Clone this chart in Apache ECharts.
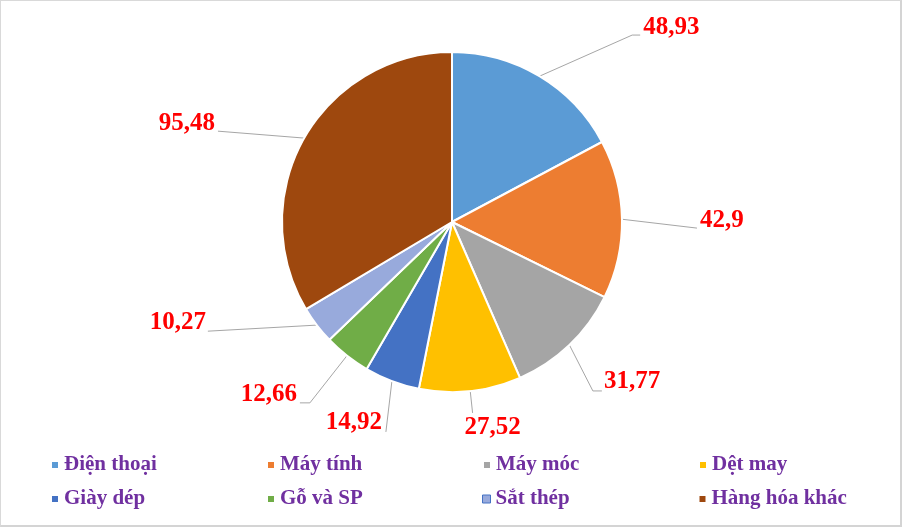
<!DOCTYPE html>
<html>
<head>
<meta charset="utf-8">
<script src="https://cdn.jsdelivr.net/npm/echarts@6/dist/echarts.min.js"></script>
<style>
html,body{margin:0;padding:0;background:#fff;}
#frame{position:absolute;left:0;top:0;width:902px;height:527px;box-sizing:border-box;border-top:1px solid #d9d9d9;border-left:1px solid #d9d9d9;border-right:2px solid #d4d4d4;border-bottom:2px solid #d4d4d4;pointer-events:none;}
#chart{width:902px;height:527px;}
</style>
</head>
<body>
<div id="chart"></div>
<div id="frame"></div>
<script>
// ---- data ----
const categories = ['Điện thoại', 'Máy tính', 'Máy móc', 'Dệt may', 'Giày dép', 'Gỗ và SP', 'Sắt thép', 'Hàng hóa khác'];
const values = [48.93, 42.9, 31.77, 27.52, 14.92, 12.66, 10.27, 95.48];

// ---- style ----
const colors = ['#5B9BD5', '#ED7D31', '#A5A5A5', '#FFC000', '#4472C4', '#70AD47', '#98AADC', '#9E480E'];
// leader line geometry (relative lengths / offsets)
const leaderLen  = [48, 40, 34, 22, 17, 60, 10, 14];
const leaderLen2 = [68, 35, 0, 0, 0, 0, 101, 74];
const endDy      = [0, 9.5, 21.4, 0, 35, 0, 0, 0];
const tailLen    = [8, 0, 9, 0, 0, 10, 0, 0];
const labelDx    = [3, 3, 2, -8, -4, -3, -2, -3];
const labelDy    = [-8, -8, -9, 15, -9, -8, -9, -8];
const serif = "'Liberation Serif', 'Times New Roman', serif";

const chart = echarts.init(document.getElementById('chart'), null, {renderer: 'canvas'});

const pieData = categories.map((name, i) => ({
  name: name,
  value: values[i],
  itemStyle: {color: colors[i]},
  labelLine: {length: leaderLen[i], length2: leaderLen2[i]}
}));

const legendData = categories.map((name, i) => {
  if (name === 'Sắt thép') {
    return {name: name, itemStyle: {color: colors[i], borderColor: '#4472C4', borderWidth: 1}};
  }
  return {name: name};
});

chart.setOption({
  animation: false,
  backgroundColor: '#ffffff',
  legend: {
    data: legendData,
    left: 50,
    top: 453,
    width: 870,
    padding: 0,
    icon: 'rect',
    itemWidth: 8,
    itemHeight: 8,
    itemGap: 10,
    textStyle: {
      color: '#7030A0',
      fontFamily: serif,
      fontWeight: 'bold',
      fontSize: 21,
      width: 192,
      lineHeight: 24
    }
  },
  series: [{
    type: 'pie',
    center: [452, 222],
    radius: 170,
    startAngle: 90,
    clockwise: true,
    avoidLabelOverlap: false,
    data: pieData,
    itemStyle: {borderColor: '#ffffff', borderWidth: 2},
    label: {
      show: true,
      position: 'outside',
      distanceToLabelLine: 3,
      formatter: p => String(p.value).replace('.', ','),
      color: '#FF0000',
      fontFamily: serif,
      fontWeight: 'bold',
      fontSize: 25
    },
    labelLine: {
      show: true,
      smooth: false,
      lineStyle: {color: '#A6A6A6', width: 1}
    },
    labelLayout: function (p) {
      const pts = p.labelLinePoints;
      if (!pts || pts.length < 3) return {};
      const i = p.dataIndex;
      const s = pts[2][0] >= pts[0][0] ? 1 : -1;
      const E = [pts[2][0], pts[2][1] + endDy[i]];
      const T = [E[0] + s * tailLen[i], E[1]];
      return {
        x: T[0] + labelDx[i],
        y: T[1] + labelDy[i],
        align: s > 0 ? 'left' : 'right',
        verticalAlign: 'middle',
        labelLinePoints: [pts[0], E, T]
      };
    },
    emphasis: {disabled: true}
  }]
});
</script>
</body>
</html>
